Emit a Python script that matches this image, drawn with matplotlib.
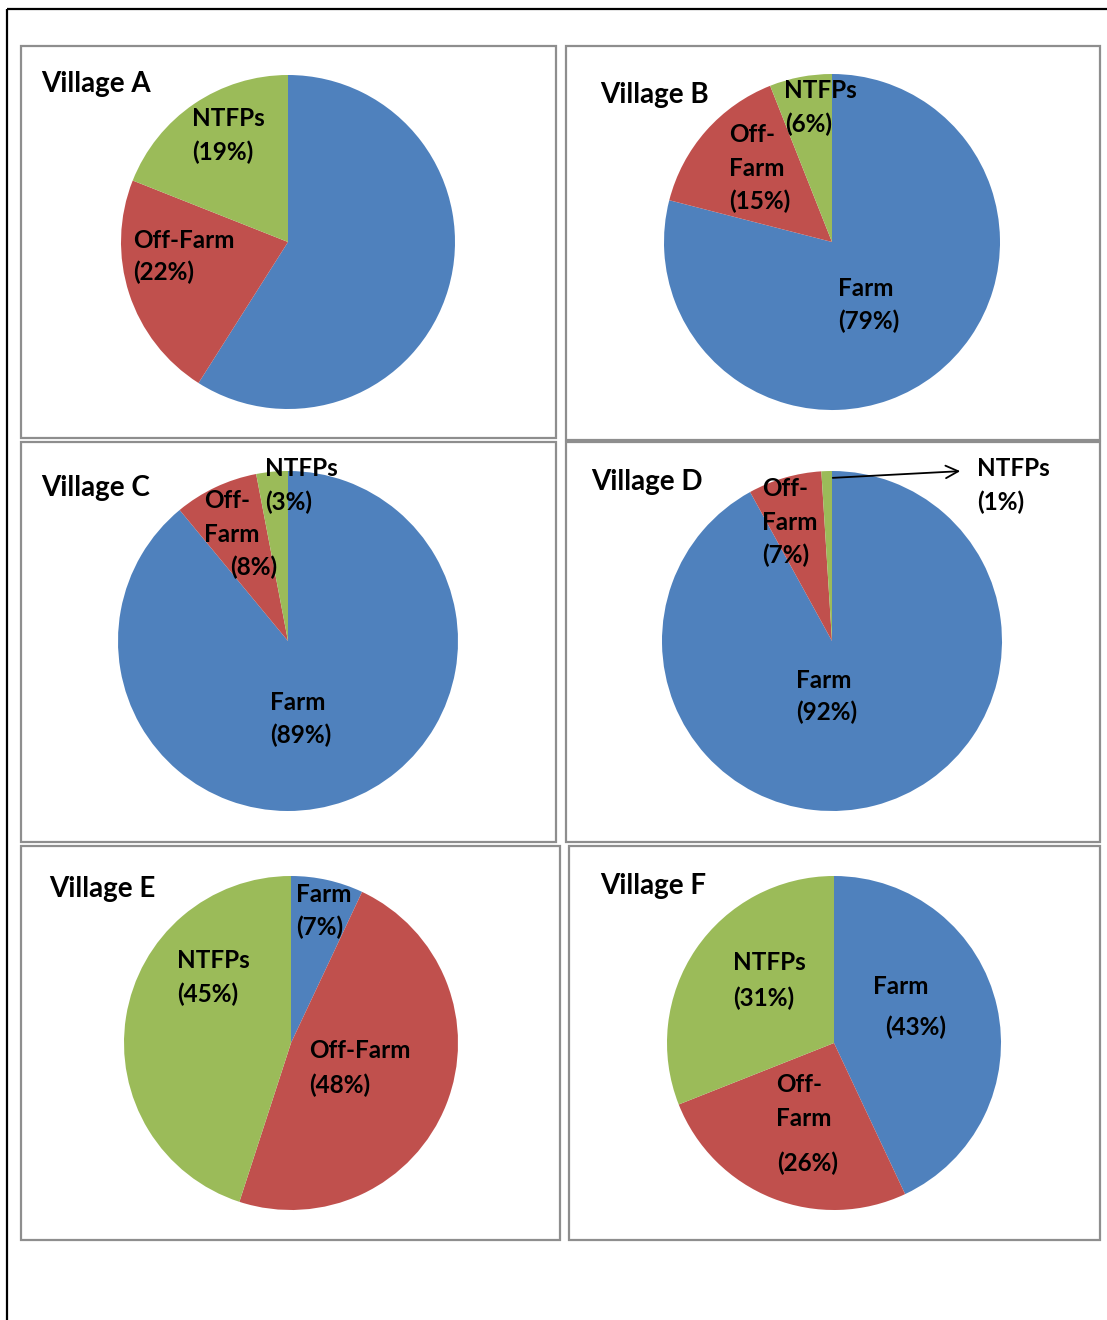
import matplotlib
matplotlib.use("Agg")
import matplotlib.pyplot as plt
from matplotlib.patches import Rectangle

# Income shares (%) by source for each village
villages = ["Village A", "Village B", "Village C", "Village D", "Village E", "Village F"]
sources = ["Farm", "Off-Farm", "NTFPs"]
farm = [59, 79, 89, 92, 7, 43]
off_farm = [22, 15, 8, 7, 48, 26]
ntfps = [19, 6, 3, 1, 45, 31]

colors = ["#4F81BD", "#C0504D", "#9BBB59"]

W, H = 1107, 1320
fig = plt.figure(figsize=(W / 100, H / 100), dpi=100)
ax = fig.add_axes([0, 0, 1, 1])

FONT = "Lato"
TITLE_SIZE = 20
LABEL_SIZE = 17.5


def Y(y):
    """Convert a top-down pixel row into the axes' bottom-up coordinate."""
    return H - y


# panel boxes (left, top, right, bottom) and pie geometry (cx, cy, r)
boxes = [(21, 46, 556, 438), (566, 46, 1100, 440),
         (21, 442, 556, 842), (566, 442, 1100, 842),
         (21, 846, 560, 1240), (569, 846, 1100, 1240)]
pies = [(288, 242, 167), (832, 242, 168),
        (288, 641, 170), (832, 641, 170),
        (291, 1043, 167), (834, 1043, 167)]
title_pos = [(41, 84), (600, 95), (41, 488), (591, 482), (49, 889), (600, 886)]

for (l, t, r, b) in boxes:
    ax.add_patch(Rectangle((l, Y(b)), r - l, b - t, fill=False,
                           edgecolor="#8E8E8E", linewidth=1.6, zorder=1))

for i, name in enumerate(villages):
    cx, cy, rad = pies[i]
    vals = [farm[i], off_farm[i], ntfps[i]]
    ax.pie(vals, colors=colors, startangle=90, counterclock=False,
           center=(cx, Y(cy)), radius=rad,
           wedgeprops=dict(linewidth=0.5, edgecolor="none"), frame=True)
    tx, ty = title_pos[i]
    ax.text(tx, Y(ty), name, fontsize=TITLE_SIZE, fontweight="bold",
            family=FONT, ha="left", va="center", zorder=5)


def pct(v):
    return f"({v}%)"


def label(lines, xs, ys):
    for s, x, y in zip(lines, xs, ys):
        ax.text(x, Y(y), s, fontsize=LABEL_SIZE, fontweight="bold",
                family=FONT, ha="left", va="center", zorder=6)


# Village A
label(["NTFPs", pct(ntfps[0])], [192, 192], [119, 152])
label(["Off-Farm", pct(off_farm[0])], [133, 133], [240, 272])
# Village B
label(["NTFPs", pct(ntfps[1])], [784, 785], [91, 124])
label(["Off-", "Farm", pct(off_farm[1])], [729, 729, 729], [135, 168, 201])
label(["Farm", pct(farm[1])], [838, 838], [289, 321])
# Village C
label(["NTFPs", pct(ntfps[2])], [265, 265], [469, 502])
label(["Off-", "Farm", pct(off_farm[2])], [204, 204, 230], [501, 534, 567])
label(["Farm", pct(farm[2])], [270, 270], [703, 735])
# Village D
label(["Off-", "Farm", pct(off_farm[3])], [762, 762, 762], [489, 522, 555])
label(["Farm", pct(farm[3])], [796, 796], [680, 712])
label(["NTFPs", pct(ntfps[3])], [977, 977], [469, 502])
ax.annotate("", xy=(963, Y(471)), xytext=(830, Y(478)),
            arrowprops=dict(arrowstyle="->,head_length=0.9,head_width=0.45",
                            color="black", lw=1.3), zorder=6)
# Village E
label(["Farm", pct(farm[4])], [296, 296], [894, 927])
label(["NTFPs", pct(ntfps[4])], [177, 177], [961, 994])
label(["Off-Farm", pct(off_farm[4])], [309, 309], [1051, 1085])
# Village F
label(["NTFPs", pct(ntfps[5])], [733, 733], [962, 998])
label(["Farm", pct(farm[5])], [873, 885], [987, 1027])
label(["Off-", "Farm", pct(off_farm[5])], [776, 776, 777], [1084, 1118, 1163])

# outer page frame: top and left rules
ax.plot([7, W], [Y(9), Y(9)], color="black", lw=1.6, solid_capstyle="butt")
ax.plot([7, 7], [Y(9), 0], color="black", lw=1.6, solid_capstyle="butt")

ax.set_xlim(0, W)
ax.set_ylim(0, H)
ax.set_aspect("auto")
ax.axis("off")

fig.savefig("out.png", dpi=100, facecolor="white")
